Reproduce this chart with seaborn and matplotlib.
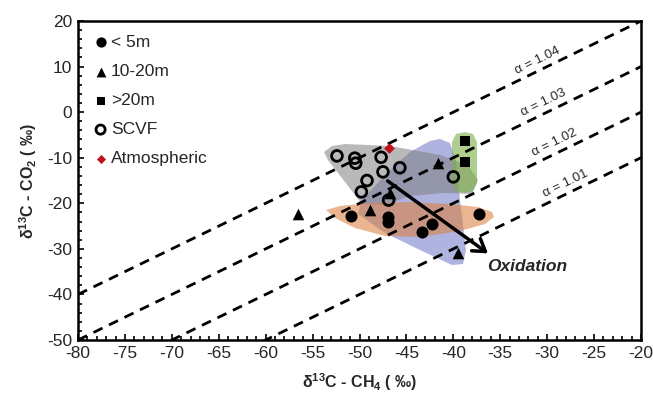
import numpy as np
import pandas as pd
import matplotlib
matplotlib.use("Agg")
import matplotlib.pyplot as plt
import seaborn as sns
from matplotlib.ticker import MultipleLocator

# ---------------- data ----------------
lt5_x = [-50.9, -47.0, -47.0, -42.3, -43.3, -37.3]
lt5_y = [-22.7, -22.9, -24.0, -24.5, -26.2, -22.4]

m10_20_x = [-56.6, -48.9, -46.8, -41.6, -39.5]
m10_20_y = [-22.4, -21.5, -17.8, -11.2, -31.0]

gt20_x = [-38.8, -38.8]
gt20_y = [-6.3, -11.0]

scvf_x = [-52.4, -50.5, -50.4, -47.7, -45.7, -47.5, -49.2, -49.8, -46.9, -40.0]
scvf_y = [-9.6, -10.1, -11.2, -9.9, -12.2, -13.1, -15.0, -17.5, -19.3, -14.2]

atm_x = [-46.9]
atm_y = [-7.9]

alphas = [1.01, 1.02, 1.03, 1.04]
alpha_label_x = [-27.8, -28.9, -30.1, -30.8]

# shaded group outlines (data coordinates)
gray_x = [-53.78, -52.93, -51.55, -46.75, -41.42, -38.44, -37.37, -38.01, -40.89, -44.62, -47.28, -49.73, -51.55, -53.36]
gray_y = [-8.75, -7.43, -6.99, -7.43, -9.40, -11.60, -14.89, -17.96, -17.74, -18.40, -20.38, -20.16, -15.33, -10.50]
blue_x = [-42.49, -41.42, -40.36, -39.72, -39.29, -38.65, -38.97, -40.14, -43.55, -47.28, -50.16, -49.73, -47.28, -44.62]
blue_y = [-6.33, -5.89, -6.77, -10.50, -19.28, -30.25, -33.32, -33.54, -30.25, -26.52, -22.35, -19.28, -13.79, -8.75]
orange_x = [-53.57, -52.08, -48.88, -44.62, -40.36, -37.37, -35.88, -35.67, -36.63, -39.29, -43.55, -47.28, -50.48, -52.61]
orange_y = [-21.47, -20.60, -19.94, -19.72, -20.16, -20.82, -21.91, -23.01, -24.55, -26.08, -27.40, -27.18, -25.42, -23.23]
green_x = [-39.72, -38.76, -37.91, -37.48, -37.48, -37.91, -38.76, -39.72, -40.14, -40.14]
green_y = [-4.80, -4.36, -4.80, -6.55, -15.55, -17.31, -17.74, -17.31, -15.55, -6.55]

arrow_start = (-47.0, -15.1)
arrow_end = (-36.3, -31.0)

x_ticks = list(range(-80, -15, 5))
y_ticks = list(range(-50, 25, 10))

# ---------------- style ----------------
sns.set_theme(style="white")
plt.rcParams["font.family"] = ["Liberation Sans", "DejaVu Sans"]
plt.rcParams["axes.unicode_minus"] = False
plt.rcParams["mathtext.fontset"] = "custom"
plt.rcParams["mathtext.rm"] = "Liberation Sans"
plt.rcParams["mathtext.bf"] = "Liberation Sans:bold"
plt.rcParams["mathtext.it"] = "Liberation Sans:italic"

fig = plt.figure(figsize=(6.53, 3.93), dpi=100)
ax = fig.add_axes([78 / 653, 1 - 340 / 393, 563 / 653, 319 / 393])

# shaded regions
ax.fill(blue_x, blue_y, color="#5e68c0", alpha=0.5, lw=0, zorder=1)
ax.fill(gray_x, gray_y, color="#808080", alpha=0.55, lw=0, zorder=1.1)
ax.fill(orange_x, orange_y, color="#dc8040", alpha=0.58, lw=0, zorder=1.2)
ax.fill(green_x, green_y, color="#7ab048", alpha=0.6, lw=0, zorder=1.3)

# fractionation lines
xs = np.array([-80.0, -20.0])
for a, lx in zip(alphas, alpha_label_x):
    ys = xs + (a - 1) * 1000
    ax.plot(xs, ys, color="black", lw=2, linestyle=(0, (3.6, 2.6)), zorder=2)
    ax.text(lx, lx + (a - 1) * 1000 + 1.0, "α = %.2f" % a, rotation=26,
            rotation_mode="anchor", ha="center", va="bottom", fontsize=9.5, zorder=3)

# points
sns.scatterplot(x=lt5_x, y=lt5_y, marker="o", s=75, color="black", edgecolor="black",
                linewidth=0, label="< 5m", ax=ax, zorder=4)
sns.scatterplot(x=m10_20_x, y=m10_20_y, marker="^", s=70, color="black", edgecolor="black",
                linewidth=0, label="10-20m", ax=ax, zorder=4)
sns.scatterplot(x=gt20_x, y=gt20_y, marker="s", s=55, color="black", edgecolor="black",
                linewidth=0, label=">20m", ax=ax, zorder=4)
sns.scatterplot(x=scvf_x, y=scvf_y, marker="o", s=60, facecolor="none", edgecolor="black",
                linewidth=2, label="SCVF", ax=ax, zorder=4)
sns.scatterplot(x=atm_x, y=atm_y, marker="D", s=30, color="#c0121c", edgecolor="#c0121c",
                linewidth=0, label="Atmospheric", ax=ax, zorder=4)

# arrow
ax.annotate("", xy=arrow_end, xytext=arrow_start,
            arrowprops=dict(arrowstyle="->,head_length=0.7,head_width=0.45", lw=2.5,
                            color="black", shrinkA=0, shrinkB=0), zorder=5)
ax.text(-36.4, -33.8, "Oxidation", fontsize=12.5, fontweight="bold", fontstyle="italic",
        ha="left", va="center", zorder=5)

# axes
ax.set_xlim(-80, -20)
ax.set_ylim(-50, 20)
ax.set_xticks(x_ticks)
ax.set_yticks(y_ticks)
ax.xaxis.set_minor_locator(MultipleLocator(1))
ax.yaxis.set_minor_locator(MultipleLocator(2))
ax.tick_params(axis="both", which="both", direction="in", bottom=True, left=True,
               top=False, right=False, labelsize=12.5, color="black")
ax.tick_params(which="major", length=4, width=1.2, pad=4)
ax.tick_params(which="minor", length=3, width=1.2)
for sp in ax.spines.values():
    sp.set_color("black")
    sp.set_linewidth(1.8)

ax.set_xlabel(r"δ$^{\mathbf{13}}$C - CH$_{\mathbf{4}}$ ( ‰)", fontsize=11.5,
              fontweight="bold", labelpad=8)
ax.set_ylabel(r"δ$^{\mathbf{13}}$C - CO$_{\mathbf{2}}$ ( ‰)", fontsize=11.5,
              fontweight="bold", labelpad=6)

ax.legend(loc="upper left", frameon=False, fontsize=12.5, handletextpad=0.1,
          labelspacing=0.8, handlelength=1.0, borderaxespad=0.4, markerscale=0.85)

fig.savefig("out.png", dpi=100)
